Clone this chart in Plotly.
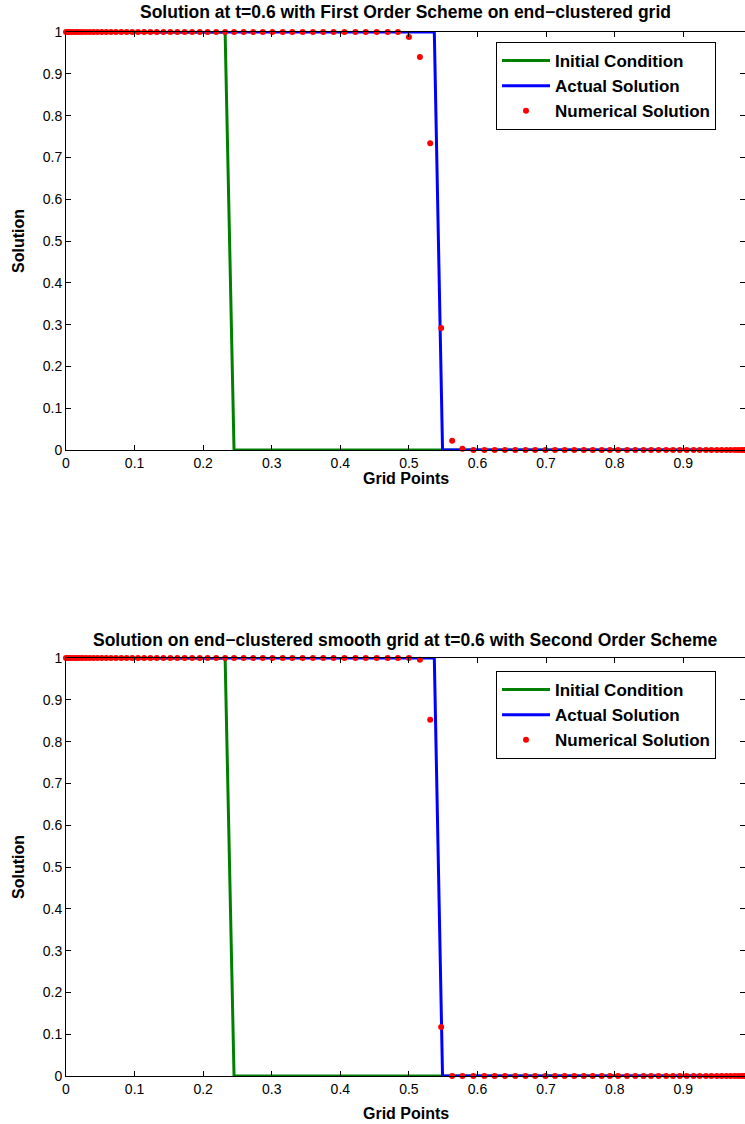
import plotly.graph_objects as go

# Grid points (end-clustered grid)
grid_x = [0.0, 0.0026, 0.0055, 0.0087, 0.0122, 0.0160, 0.0201, 0.0245, 0.0293, 0.0345,
          0.0400, 0.0459, 0.0521, 0.0587, 0.0656, 0.0729, 0.0805, 0.0884, 0.0966, 0.1051,
          0.1139, 0.1230, 0.1324, 0.1421, 0.1521, 0.1624, 0.1730, 0.1839, 0.1950, 0.2064,
          0.219, 0.232, 0.245, 0.259, 0.273, 0.287, 0.301, 0.316, 0.330, 0.345,
          0.360, 0.375, 0.390, 0.406, 0.422, 0.437, 0.453, 0.469, 0.484, 0.500,
          0.516, 0.531, 0.547, 0.563, 0.578, 0.594, 0.610, 0.625, 0.640, 0.655,
          0.670, 0.684, 0.699, 0.713, 0.727, 0.741, 0.755, 0.768, 0.781, 0.793,
          0.805, 0.818, 0.830, 0.842, 0.853, 0.864, 0.875, 0.885, 0.895, 0.905,
          0.915, 0.924, 0.933, 0.941, 0.949, 0.956, 0.963, 0.969, 0.975, 0.980,
          0.9845, 0.9885, 0.992, 0.995, 0.9975, 1.0]

# Numerical solution, first order scheme (top)
num1_y = [1]*49 + [0.988, 0.94, 0.734, 0.292, 0.022, 0.003] + [0]*41

# Numerical solution, second order scheme (bottom)
num2_y = [1]*50 + [0.996, 0.852, 0.117] + [0]*43

# Initial condition and exact solution lines
ic_x = [0.0, 0.232, 0.245, 1.0]
ic_y = [1, 1, 0, 0]
ex_x = [0.0, 0.537, 0.549, 1.0]
ex_y = [1, 1, 0, 0]

x_ticks = [0, 0.1, 0.2, 0.3, 0.4, 0.5, 0.6, 0.7, 0.8, 0.9]
x_tick_text = ["0", "0.1", "0.2", "0.3", "0.4", "0.5", "0.6", "0.7", "0.8", "0.9"]
y_ticks = [0, 0.1, 0.2, 0.3, 0.4, 0.5, 0.6, 0.7, 0.8, 0.9, 1]
y_tick_text = ["0", "0.1", "0.2", "0.3", "0.4", "0.5", "0.6", "0.7", "0.8", "0.9", "1"]

titles = ["Solution at t=0.6 with First Order Scheme on end\u2212clustered grid",
          "Solution on end\u2212clustered smooth grid at t=0.6 with Second Order Scheme"]

W, H = 745, 1124
FONT = "Liberation Sans, Arial, Helvetica, sans-serif"

fig = go.Figure()

def add_panel(idx, num_y):
    xa = "x" if idx == 1 else "x2"
    ya = "y" if idx == 1 else "y2"
    leg = "legend" if idx == 1 else "legend2"
    fig.add_trace(go.Scatter(x=ic_x, y=ic_y, mode="lines", name="Initial Condition",
                             line=dict(color="rgb(0,128,0)", width=3),
                             xaxis=xa, yaxis=ya, legend=leg, legendgroup=f"a{idx}",
                             cliponaxis=False))
    fig.add_trace(go.Scatter(x=ex_x, y=ex_y, mode="lines", name="Actual Solution",
                             line=dict(color="rgb(0,0,255)", width=3),
                             xaxis=xa, yaxis=ya, legend=leg, legendgroup=f"b{idx}",
                             cliponaxis=False))
    fig.add_trace(go.Scatter(x=grid_x, y=num_y, mode="markers", name="Numerical Solution",
                             marker=dict(color="rgb(255,0,0)", size=6),
                             xaxis=xa, yaxis=ya, legend=leg, legendgroup=f"c{idx}",
                             cliponaxis=False))

add_panel(1, num1_y)
add_panel(2, num2_y)

# pixel layout
plot_l, plot_r = 66, 745
MT, MB = 32, 48
PH = H - MT - MB
top_dom = (32, 450)
bot_dom = (658, 1076)

def ydom(d):
    return [1 - (d[1] - MT) / PH, 1 - (d[0] - MT) / PH]

def py(yp):
    # paper y from pixel y
    return 1 - (yp - MT) / PH

def px(xp):
    return (xp - plot_l) / (plot_r - plot_l)

axis_common = dict(
    showline=True, linecolor="black", linewidth=1, mirror="ticks",
    ticks="inside", ticklen=5, tickcolor="black", tickwidth=1,
    showgrid=False, zeroline=False, automargin=False,
    tickfont=dict(family=FONT, size=14, color="black"),
)

leg_common = dict(xanchor="left", yanchor="top", bgcolor="white",
                  bordercolor="black", borderwidth=1, tracegroupgap=0,
                  itemwidth=48,
                  font=dict(family=FONT, size=17, color="black", weight="bold"))

fig.update_layout(
    width=W, height=H,
    margin=dict(l=plot_l, r=0, t=MT, b=MB, autoexpand=False),
    paper_bgcolor="white", plot_bgcolor="white",
    xaxis=dict(domain=[0, 1], range=[0, 0.99], anchor="y",
               tickvals=x_ticks, ticktext=x_tick_text, **axis_common),
    yaxis=dict(domain=ydom(top_dom), range=[0, 1], anchor="x",
               tickvals=y_ticks, ticktext=y_tick_text, **axis_common),
    xaxis2=dict(domain=[0, 1], range=[0, 0.99], anchor="y2",
                tickvals=x_ticks, ticktext=x_tick_text, **axis_common),
    yaxis2=dict(domain=ydom(bot_dom), range=[0, 1], anchor="x2",
                tickvals=y_ticks, ticktext=y_tick_text, **axis_common),
    showlegend=True,
    legend=dict(x=px(496), y=py(42), **leg_common),
    legend2=dict(x=px(496), y=py(671), **leg_common),
)

title_font = dict(family=FONT, size=17.5, color="black", weight="bold")
lab_font = dict(family=FONT, size=16, color="black", weight="bold")
for title, yc in [(titles[0], 12), (titles[1], 640)]:
    fig.add_annotation(text=title, x=0.5, y=py(yc), xref="paper", yref="paper",
                       xanchor="center", yanchor="middle", showarrow=False, font=title_font)
for yc in [479, 1113]:
    fig.add_annotation(text="Grid Points", x=0.5, y=py(yc), xref="paper", yref="paper",
                       xanchor="center", yanchor="middle", showarrow=False, font=lab_font)
for d in [top_dom, bot_dom]:
    yc = (d[0] + d[1]) / 2
    fig.add_annotation(text="Solution", x=px(18), y=py(yc),
                       xref="paper", yref="paper", xanchor="center", yanchor="middle",
                       textangle=-90, showarrow=False, font=lab_font)

fig.write_html("out.html")
